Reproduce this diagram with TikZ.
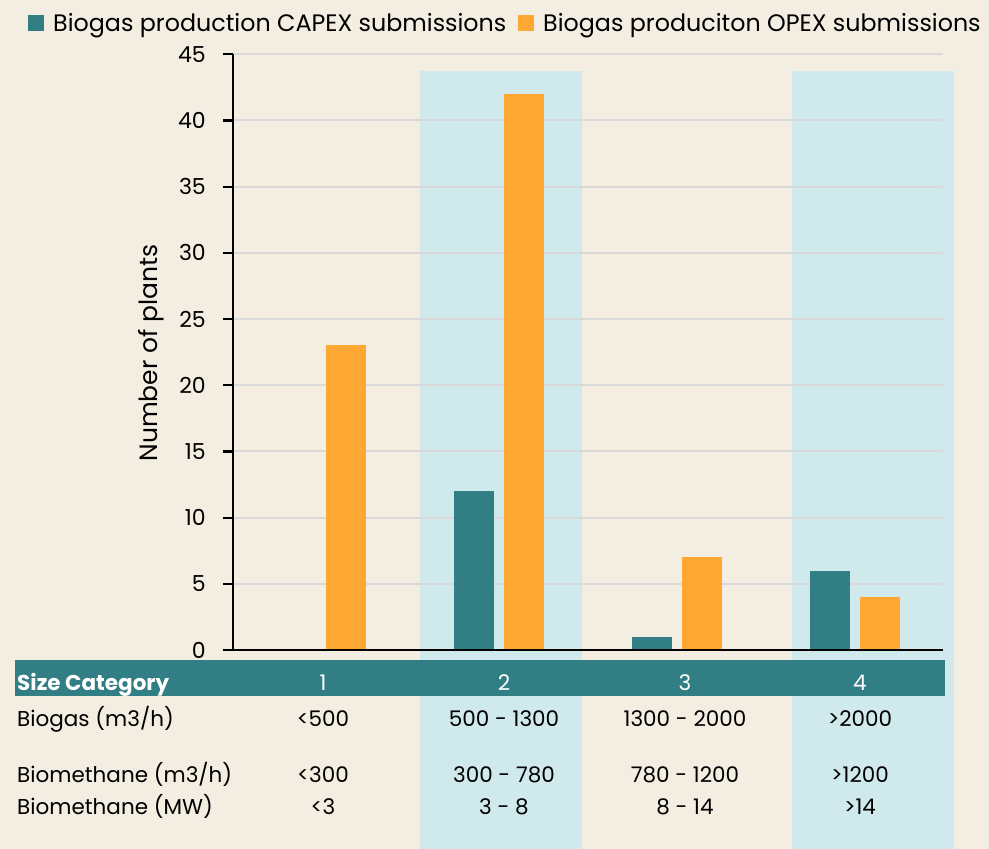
\documentclass[tikz,border=0pt]{standalone}
\usepackage{fontspec}
\setmainfont{Poppins}
\usetikzlibrary{positioning}
\definecolor{bgbeige}{RGB}{243,237,226}
\definecolor{bandblue}{RGB}{208,233,236}
\definecolor{capexteal}{RGB}{50,126,133}
\definecolor{opexorange}{RGB}{255,167,51}
\definecolor{gridgrey}{RGB}{217,217,217}
\tikzset{
  capex/.style={fill=capexteal},
  opex/.style={fill=opexorange},
  band/.style={fill=bandblue},
  gline/.style={gridgrey,line width=2pt},
  axline/.style={black,line width=2.2pt},
  txt/.style={font=\fontsize{21.5}{26}\selectfont,inner sep=0pt},
  tlab/.style={txt,anchor=east,font=\fontsize{22}{26}\selectfont},
  rowlab/.style={txt,anchor=base west},
  rowval/.style={txt,anchor=base},
  hdr/.style={txt,anchor=base,text=white},
  keylab/.style={rowlab,font=\fontsize{23.8}{28}\selectfont},
  key/.style={minimum size=16pt,inner sep=0pt}
}

\begin{document}
\begin{tikzpicture}[x=1pt,y=-1pt]
  \fill[bgbeige] (0,0) rectangle (989,849);
  \useasboundingbox (0,0) rectangle (989,849);
  % shaded columns
  \fill[band] (420,71) rectangle (582,849);
  \fill[band] (792,71) rectangle (954,849);
  % grid and ticks
  \foreach \v in {5,10,...,45}{
    \draw[gline] (233,650-13.24*\v) -- (943,650-13.24*\v);
  }
  \foreach \v in {0,5,...,45}{
    \draw[line width=2.2pt] (223,650-13.24*\v) -- (233,650-13.24*\v);
    \node[tlab] (tick\v) at (206,650-13.24*\v) {\v};
  }
  % bars
  \foreach \c/\a/\b in {1/0/23,2/12/42,3/1/7,4/6/4}{
    \pgfmathsetmacro\cx{143+178*\c}
    \ifnum\a>0 \fill[capex] (\cx-45,650) rectangle (\cx-5,650-13.24*\a); \fi
    \fill[opex] (\cx+5,650) rectangle (\cx+45,650-13.24*\b);
  }
  \draw[axline] (233,54) -- (233,650) -- (943,650);
  \node[txt,rotate=90,font=\fontsize{25}{30}\selectfont] (ylab) at (151,353) {Number of plants};
  % legend
  \node[key,capex] (keycapex) at (36,23) {};
  \node[keylab] (capexlab) at (53,31) {Biogas production CAPEX submissions};
  \node[key,opex] (keyopex) at (526,23) {};
  \node[keylab] (opexlab) at (543,31) {Biogas produciton OPEX submissions};
  % size table
  \fill[capexteal] (15,660) rectangle (945,696);
  \node[hdr,anchor=base west,font=\fontsize{21.5}{26}\selectfont\bfseries] (sizehdr) at (17,690) {Size Category};
  \node[rowlab] (biogas) at (17,726) {Biogas (m3/h)};
  \node[rowlab] (biomvol) at (17,782) {Biomethane (m3/h)};
  \node[rowlab] (biommw) at (17,814) {Biomethane (MW)};
  \foreach \c/\x/\g/\m/\w in {1/323/<500/<300/<3,2/504/500 - 1300/300 - 780/3 - 8,
      3/685/1300 - 2000/780 - 1200/8 - 14,4/860/>2000/>1200/>14}{
    \node[hdr] (cat\c) at (\x,690) {\c};
    \node[rowval] (gas\c) at (\x,726) {\g};
    \node[rowval] (vol\c) at (\x,782) {\m};
    \node[rowval] (mw\c) at (\x,814) {\w};
  }
\end{tikzpicture}
\end{document}
